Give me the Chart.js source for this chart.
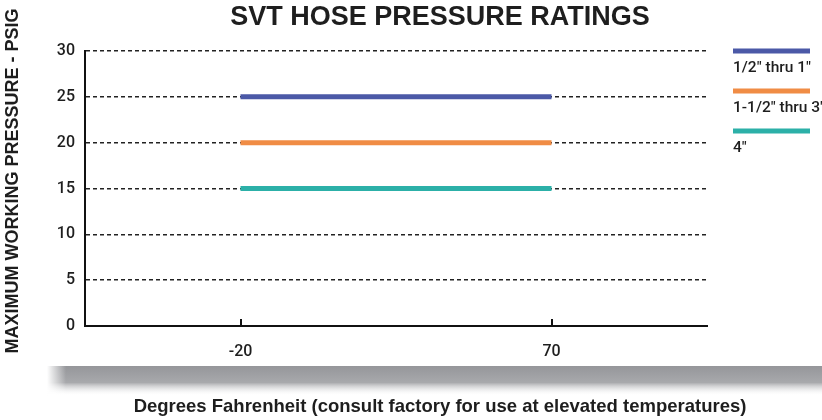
<!DOCTYPE html>
<html>
<head>
<meta charset="utf-8">
<script src="https://cdn.jsdelivr.net/npm/chart.js@4"></script>
<style>
  html, body { margin: 0; padding: 0; background: #fff; }
  #wrap { width: 822px; height: 420px; position: relative; }
</style>
</head>
<body>
<div id="wrap"><canvas id="pressureChart" width="822" height="420"></canvas></div>
<script>
// chart data
const temps = [-20, 70];
const xTicks = [-20, 70];
const yTicks = [0, 5, 10, 15, 20, 25, 30];
const seriesLabels = ['1/2" thru 1"', '1-1/2" thru 3"', '4"'];
const halfToOne = [25, 25];
const oneHalfToThree = [20, 20];
const fourInch = [15, 15];
const seriesColors = ['#4b59a7', '#f08c45', '#2cb0a8'];

const chartTitle = 'SVT HOSE PRESSURE RATINGS';
const xTitle = 'Degrees Fahrenheit (consult factory for use at elevated temperatures)';
const yTitle = 'MAXIMUM WORKING PRESSURE - PSIG';

const narrow = "Roboto, 'Liberation Sans', Arial, sans-serif";
const bold = "'Liberation Sans', Arial, sans-serif";

function toPoints(values) {
    return temps.map((t, i) => ({ x: t, y: values[i] }));
}

// grey shadow band under the chart + titles
const decorPlugin = {
    id: 'decor',
    beforeDraw(chart) {
        const ctx = chart.ctx;
        ctx.save();
        const grad = ctx.createLinearGradient(0, 366, 0, 396);
        grad.addColorStop(0, '#95969a');
        grad.addColorStop(0.55, '#a8a9ac');
        grad.addColorStop(1, 'rgba(255,255,255,0)');
        ctx.fillStyle = grad;
        ctx.fillRect(47, 366, 775, 30);
        const side = ctx.createLinearGradient(47, 0, 66, 0);
        side.addColorStop(0, 'rgba(255,255,255,1)');
        side.addColorStop(1, 'rgba(255,255,255,0)');
        ctx.fillStyle = side;
        ctx.fillRect(47, 366, 19, 30);
        ctx.restore();
    },
    afterDraw(chart) {
        const ctx = chart.ctx;
        ctx.save();
        ctx.fillStyle = '#1e1e1e';
        ctx.textAlign = 'center';
        ctx.textBaseline = 'middle';
        ctx.font = 'bold 27px ' + bold;
        ctx.fillText(chartTitle, 440, 18);
        ctx.font = 'bold 18.5px ' + bold;
        ctx.fillText(xTitle, 440, 407);
        ctx.translate(13, 181);
        ctx.rotate(-Math.PI / 2);
        ctx.font = 'bold 18px ' + bold;
        ctx.fillText(yTitle, 0, 0);
        ctx.restore();

        // small inward tick marks on the x axis
        const xs = chart.scales.x;
        const bottom = chart.chartArea.bottom;
        ctx.save();
        ctx.strokeStyle = '#111';
        ctx.lineWidth = 2;
        xTicks.forEach(v => {
            const px = Math.round(xs.getPixelForValue(v));
            ctx.beginPath();
            ctx.moveTo(px, bottom);
            ctx.lineTo(px, bottom - 7);
            ctx.stroke();
        });
        ctx.restore();

        // legend: coloured bar with text under it
        ctx.save();
        ctx.font = '500 15.5px ' + narrow;
        ctx.textAlign = 'left';
        ctx.textBaseline = 'middle';
        chart.data.datasets.forEach((ds, i) => {
            const y = 51 + i * 40;
            ctx.strokeStyle = ds.borderColor;
            ctx.lineWidth = 5;
            ctx.beginPath();
            ctx.moveTo(733, y);
            ctx.lineTo(810, y);
            ctx.stroke();
            ctx.fillStyle = '#1e1e1e';
            ctx.fillText(ds.label, 733, y + 17);
        });
        ctx.restore();
    }
};

const ctx = document.getElementById('pressureChart').getContext('2d');
new Chart(ctx, {
    type: 'line',
    data: {
        datasets: [halfToOne, oneHalfToThree, fourInch].map((vals, i) => ({
            label: seriesLabels[i],
            data: toPoints(vals),
            borderColor: seriesColors[i],
            backgroundColor: seriesColors[i],
            borderWidth: 5,
            pointRadius: 0,
            fill: false
        }))
    },
    options: {
        responsive: false,
        animation: false,
        layout: { padding: { left: 45, right: 115, top: 51, bottom: 64 } },
        plugins: {
            legend: { display: false },
            tooltip: { enabled: false }
        },
        scales: {
            x: {
                type: 'linear',
                min: -65,
                max: 115,
                afterBuildTicks: scale => { scale.ticks = xTicks.map(v => ({ value: v })); },
                afterFit: scale => { scale.height = 30; },
                grid: { display: false, drawTicks: false },
                border: { display: true, color: '#111', width: 2 },
                ticks: {
                    padding: 16,
                    color: '#1e1e1e',
                    font: { family: narrow, size: 16, weight: '500' },
                    maxRotation: 0
                }
            },
            y: {
                min: 0,
                max: 30,
                afterBuildTicks: scale => { scale.ticks = yTicks.map(v => ({ value: v })); },
                afterFit: scale => { scale.width = 40; },
                grid: { color: '#222', lineWidth: 1.4, drawTicks: false },
                border: { display: true, color: '#111', width: 2, dash: [4, 3] },
                ticks: {
                    padding: 10,
                    color: '#1e1e1e',
                    font: { family: narrow, size: 16, weight: '500' }
                }
            }
        }
    },
    plugins: [decorPlugin]
});
</script>
</body>
</html>
